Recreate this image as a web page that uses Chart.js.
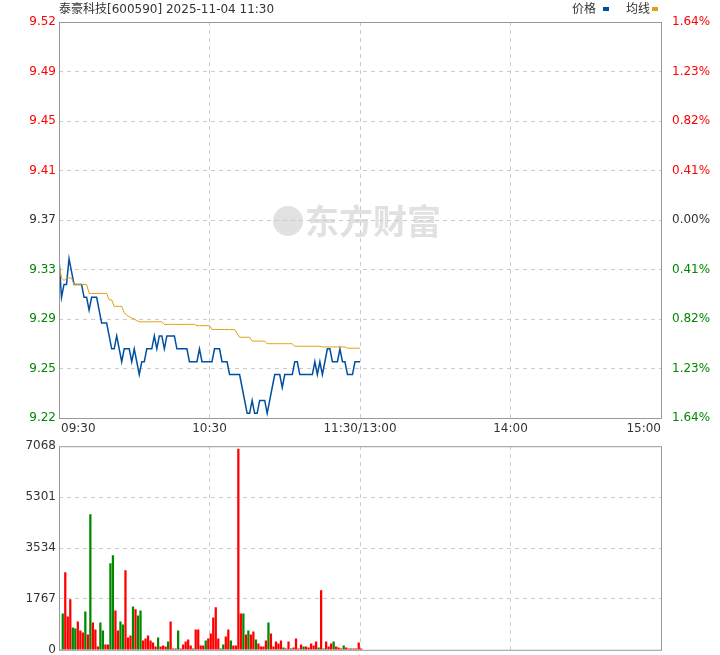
<!DOCTYPE html>
<html>
<head>
<meta charset="utf-8">
<script src="https://cdn.jsdelivr.net/npm/chart.js@4/dist/chart.umd.min.js"></script>
<style>
  body { margin: 0; background: #fff; width: 720px; height: 655px; position: relative; overflow: hidden; }
  canvas { position: absolute; left: 0; }
</style>
</head>
<body>
<canvas id="priceChart" width="720" height="440" style="top:0"></canvas>
<canvas id="volChart" width="720" height="224" style="top:436px"></canvas>
<script>
// minute data, 09:30 -> 11:30
const prices = [
  9.34, 9.31, 9.32, 9.32, 9.34, 9.33, 9.32, 9.32, 9.32, 9.32,
  9.31, 9.31, 9.30, 9.31, 9.31, 9.31, 9.30, 9.29, 9.29, 9.29,
  9.28, 9.27, 9.27, 9.28, 9.27, 9.26, 9.27, 9.27, 9.27, 9.26,
  9.27, 9.26, 9.25, 9.26, 9.26, 9.27, 9.27, 9.27, 9.28, 9.27,
  9.28, 9.28, 9.27, 9.28, 9.28, 9.28, 9.28, 9.27, 9.27, 9.27,
  9.27, 9.27, 9.26, 9.26, 9.26, 9.26, 9.27, 9.26, 9.26, 9.26,
  9.26, 9.26, 9.27, 9.27, 9.27, 9.26, 9.26, 9.26, 9.25, 9.25,
  9.25, 9.25, 9.25, 9.24, 9.23, 9.22, 9.22, 9.23, 9.22, 9.22,
  9.23, 9.23, 9.23, 9.22, 9.23, 9.24, 9.25, 9.25, 9.25, 9.24,
  9.25, 9.25, 9.25, 9.25, 9.26, 9.26, 9.25, 9.25, 9.25, 9.25,
  9.25, 9.25, 9.26, 9.25, 9.26, 9.25, 9.26, 9.27, 9.27, 9.26,
  9.26, 9.26, 9.27, 9.26, 9.26, 9.25, 9.25, 9.25, 9.26, 9.26,
  9.26
];
const avgPrices = [
  9.336, 9.325, 9.323, 9.325, 9.325, 9.325, 9.320, 9.320, 9.320, 9.320,
  9.320, 9.320, 9.313, 9.313, 9.313, 9.313, 9.313, 9.313, 9.313, 9.313,
  9.308, 9.308, 9.303, 9.303, 9.303, 9.303, 9.298, 9.296, 9.295, 9.294,
  9.293, 9.292, 9.291, 9.291, 9.291, 9.291, 9.291, 9.291, 9.291, 9.291,
  9.291, 9.291, 9.289, 9.289, 9.289, 9.289, 9.289, 9.289, 9.289, 9.289,
  9.289, 9.289, 9.289, 9.289, 9.289, 9.288, 9.288, 9.288, 9.288, 9.288,
  9.288, 9.285, 9.285, 9.285, 9.285, 9.285, 9.285, 9.285, 9.285, 9.285,
  9.285, 9.282, 9.279, 9.279, 9.279, 9.279, 9.279, 9.276, 9.276, 9.276,
  9.276, 9.276, 9.276, 9.274, 9.274, 9.274, 9.274, 9.274, 9.274, 9.274,
  9.274, 9.274, 9.274, 9.274, 9.272, 9.272, 9.272, 9.272, 9.272, 9.272,
  9.272, 9.272, 9.272, 9.272, 9.272, 9.2715, 9.2715, 9.2715, 9.2715, 9.2715,
  9.2715, 9.2715, 9.2715, 9.2715, 9.2715, 9.2705, 9.2705, 9.2705, 9.2705, 9.2705,
  9.2705
];
const volumes = [
  0, 1253, 2680, 1148, 1740, 766, 731, 974, 661, 592,
  1322, 522, 4698, 940, 696, 104, 940, 661, 174, 174,
  2993, 3271, 1357, 661, 974, 870, 2749, 418, 487, 1496,
  1392, 1183, 1357, 313, 383, 487, 313, 244, 104, 418,
  104, 139, 104, 278, 974, 35, 35, 661, 35, 174,
  278, 348, 139, 35, 696, 696, 139, 139, 313, 383,
  557, 1114, 1462, 383, 35, 174, 452, 696, 313, 139,
  139, 6964, 1253, 1253, 522, 661, 522, 626, 348, 209,
  104, 104, 313, 940, 557, 104, 278, 209, 313, 70,
  35, 278, 35, 70, 383, 35, 174, 104, 104, 70,
  209, 139, 278, 70, 2053, 35, 278, 104, 209, 278,
  104, 70, 35, 139, 70, 35, 35, 35, 35, 244,
  35
];
// u = red (up), g = green (down)
const volDirs = [
  'u', 'g', 'u', 'u', 'u', 'g', 'g', 'u', 'u', 'u',
  'g', 'u', 'g', 'u', 'u', 'u', 'g', 'g', 'u', 'u',
  'g', 'g', 'u', 'u', 'g', 'g', 'u', 'u', 'u', 'g',
  'u', 'g', 'g', 'u', 'u', 'u', 'u', 'u', 'u', 'g',
  'u', 'u', 'u', 'g', 'u', 'u', 'u', 'g', 'u', 'u',
  'u', 'u', 'u', 'g', 'u', 'u', 'u', 'u', 'g', 'u',
  'u', 'u', 'u', 'u', 'g', 'g', 'u', 'u', 'g', 'u',
  'u', 'u', 'u', 'g', 'u', 'g', 'u', 'u', 'g', 'u',
  'u', 'u', 'u', 'g', 'u', 'u', 'u', 'u', 'u', 'g',
  'u', 'u', 'g', 'u', 'u', 'u', 'u', 'g', 'u', 'u',
  'u', 'u', 'u', 'g', 'u', 'g', 'u', 'u', 'u', 'g',
  'u', 'u', 'u', 'g', 'u', 'u', 'g', 'u', 'u', 'u',
  'u'
];
const timeLabels = ['09:30', '10:30', '11:30/13:00', '14:00', '15:00'];
const timeTicks = [0, 60, 120, 180, 240];
const prevClose = 9.37;
const maxPct = 1.64;
const volTicks = [0, 1767, 3534, 5301, 7068];

const RED = '#ff0000';
const GREEN = '#008800';
const FONT = "'DejaVu Sans', 'Noto Sans CJK SC', sans-serif";
const LEFT_W = 59;
const RIGHT_W = 59;

const priceMin = prevClose * (1 - maxPct / 100);
const priceMax = prevClose * (1 + maxPct / 100);
const priceTicks = [];
for (let k = -4; k <= 4; k++) priceTicks.push(prevClose + k * (priceMax - prevClose) / 4);

function tickColor(v, base) {
  if (Math.abs(v - base) < 1e-6) return '#333';
  return v > base ? RED : GREEN;
}

// border + extra text
const framePlugin = {
  id: 'frame',
  afterDraw(chart, args, opts) {
    const { ctx, chartArea: a } = chart;
    ctx.save();
    ctx.strokeStyle = '#999';
    ctx.lineWidth = 1;
    ctx.strokeRect(a.left + 0.5, a.top + 0.5, a.right - a.left, a.bottom - a.top);
    if (opts.extra) opts.extra(ctx, a);
    ctx.restore();
  }
};

function drawMainText(ctx, a) {
  ctx.font = '12px ' + FONT;
  ctx.fillStyle = '#333';
  ctx.textBaseline = 'middle';
  ctx.textAlign = 'left';
  ctx.fillText('泰豪科技[600590] 2025-11-04 11:30', a.left, 10);
  // legend
  ctx.textAlign = 'right';
  ctx.fillText('均线', 650, 10);
  ctx.fillStyle = '#e0a010';
  ctx.fillRect(652, 7, 6, 4);
  ctx.fillStyle = '#333';
  ctx.fillText('价格', 596, 10);
  ctx.fillStyle = '#0050a0';
  ctx.fillRect(603, 7, 6, 4);
  // time labels
  ctx.fillStyle = '#333';
  const w = a.right - a.left;
  timeTicks.forEach((t, i) => {
    const x = a.left + w * t / 240;
    ctx.textAlign = i === 0 ? 'left' : (i === timeTicks.length - 1 ? 'right' : 'center');
    ctx.fillText(timeLabels[i], i === 0 ? x + 2 : x, a.bottom + 11);
  });
  // watermark
  ctx.font = 'bold 34px ' + "'Noto Sans CJK SC', sans-serif";
  ctx.fillStyle = 'rgba(200,200,200,0.55)';
  ctx.textAlign = 'left';
  ctx.fillText('东方财富', 305, 221);
  ctx.beginPath();
  ctx.arc(288, 221, 15, 0, Math.PI * 2);
  ctx.fill();
}

const priceChart = new Chart(document.getElementById('priceChart'), {
  type: 'line',
  data: {
    datasets: [
      {
        data: avgPrices.map((v, i) => ({ x: i, y: v })),
        borderColor: '#e0a010',
        borderWidth: 1,
        pointRadius: 0,
        tension: 0,
        yAxisID: 'y',
      },
      {
        data: prices.map((v, i) => ({ x: i, y: v })),
        borderColor: '#0050a0',
        borderWidth: 1.5,
        pointRadius: 0,
        tension: 0,
        yAxisID: 'y',
      },
    ],
  },
  options: {
    responsive: false,
    animation: false,
    devicePixelRatio: 1,
    layout: { padding: { top: 22, left: 0, right: 0, bottom: 0 } },
    plugins: {
      legend: { display: false },
      tooltip: { enabled: false },
      frame: { extra: drawMainText },
    },
    scales: {
      x: {
        type: 'linear',
        min: 0,
        max: 240,
        afterBuildTicks: (s) => { s.ticks = [60, 120, 180].map(v => ({ value: v })); },
        ticks: { display: false },
        grid: { color: '#ccc', drawTicks: false },
        border: { display: false, dash: [4, 4] },
        afterFit: (s) => { s.height = 22; },
      },
      y: {
        position: 'left',
        min: priceMin,
        max: priceMax,
        afterBuildTicks: (s) => { s.ticks = priceTicks.map(v => ({ value: v })); },
        ticks: {
          font: { size: 12, family: FONT },
          color: (c) => tickColor(c.tick.value, prevClose),
          callback: (v) => v.toFixed(2),
          padding: 3,
        },
        grid: { color: (c) => (c.index === 0 || c.index === 8 ? 'rgba(0,0,0,0)' : '#ccc'), drawTicks: false },
        border: { display: false, dash: [4, 4] },
        afterFit: (s) => { s.width = LEFT_W; },
      },
      y2: {
        position: 'right',
        min: -maxPct,
        max: maxPct,
        afterBuildTicks: (s) => {
          s.ticks = [];
          for (let k = -4; k <= 4; k++) s.ticks.push({ value: k * maxPct / 4 });
        },
        ticks: {
          font: { size: 12, family: FONT },
          color: (c) => tickColor(c.tick.value, 0),
          callback: (v) => Math.abs(v).toFixed(2) + '%',
          padding: 3,
        },
        grid: { display: false },
        border: { display: false },
        afterFit: (s) => { s.width = RIGHT_W; },
      },
    },
  },
  plugins: [framePlugin],
});

const volChart = new Chart(document.getElementById('volChart'), {
  type: 'bar',
  data: {
    datasets: [{
      data: volumes.map((v, i) => ({ x: i, y: v })),
      backgroundColor: volDirs.map(d => (d === 'u' ? RED : GREEN)),
      barThickness: 1.6,
    }],
  },
  options: {
    responsive: false,
    animation: false,
    devicePixelRatio: 1,
    layout: { padding: { top: 2, left: 0, right: RIGHT_W, bottom: 0 } },
    plugins: {
      legend: { display: false },
      tooltip: { enabled: false },
      frame: {},
    },
    scales: {
      x: {
        type: 'linear',
        min: -0.5,
        max: 239.5,
        offset: false,
        afterBuildTicks: (s) => { s.ticks = [59.5, 119.5, 179.5].map(v => ({ value: v })); },
        ticks: { display: false },
        grid: { color: '#ccc', drawTicks: false, offset: false },
        border: { display: false, dash: [4, 4] },
        afterFit: (s) => { s.height = 1; },
      },
      y: {
        min: 0,
        max: volTicks[volTicks.length - 1],
        afterBuildTicks: (s) => { s.ticks = volTicks.map(v => ({ value: v })); },
        ticks: {
          font: { size: 12, family: FONT },
          color: '#333',
          padding: 3,
          callback: (v) => String(v),
        },
        grid: { color: (c) => (c.index === 0 || c.index === 4 ? 'rgba(0,0,0,0)' : '#ccc'), drawTicks: false },
        border: { display: false, dash: [4, 4] },
        afterFit: (s) => { s.width = LEFT_W; },
      },
    },
  },
  plugins: [framePlugin],
});
</script>
</body>
</html>
